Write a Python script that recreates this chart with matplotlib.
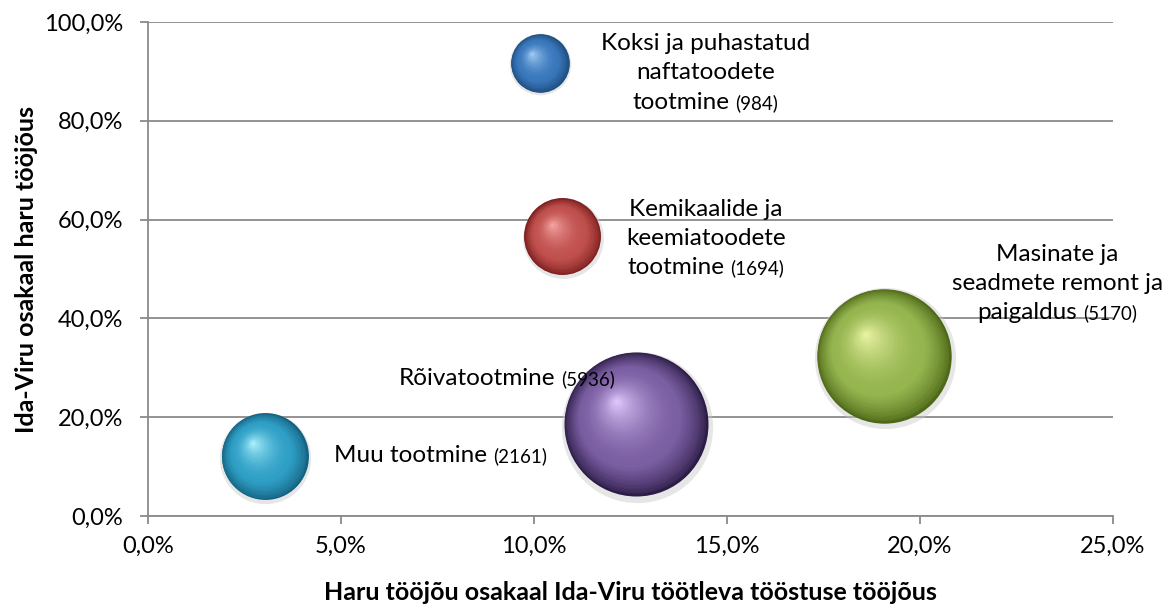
import matplotlib
matplotlib.use("Agg")
import matplotlib.pyplot as plt
import numpy as np
from matplotlib import transforms
from matplotlib.colors import to_rgb
from matplotlib.offsetbox import TextArea, HPacker, VPacker, AnnotationBbox
from matplotlib.ticker import FuncFormatter, MultipleLocator

# --- andmed ---
harud = ["Koksi ja puhastatud naftatoodete tootmine",
         "Kemikaalide ja keemiatoodete tootmine",
         "Muu tootmine",
         "Rõivatootmine",
         "Masinate ja seadmete remont ja paigaldus"]
haru_osakaal = [10.15, 10.74, 3.02, 12.64, 19.06]      # x, %
idaviru_osakaal = [91.7, 56.6, 12.1, 18.7, 32.5]       # y, %
tootajaid = [984, 1694, 2161, 5936, 5170]              # mulli suurus

silt_read = [["Koksi ja puhastatud", "naftatoodete", "tootmine"],
             ["Kemikaalide ja", "keemiatoodete", "tootmine"],
             ["Muu tootmine"],
             ["Rõivatootmine"],
             ["Masinate ja", "seadmete remont ja", "paigaldus"]]
silt_koht = [(14.45, 89.7), (14.45, 56.2), (7.58, 12.3), (9.3, 27.9), (23.56, 47.1)]

# värvid: tume serv, põhitoon, helk
varvid = [("#1d4a7a", "#3a78bd", "#a6d0f5"),
          ("#7a1e1e", "#c0504d", "#f7a8a8"),
          ("#14617f", "#2f9fc6", "#b0f4ff"),
          ("#2c1d47", "#7b5fa3", "#e4ccff"),
          ("#4d6818", "#95b54f", "#eef7a8")]

FONT = "Lato"
plt.rcParams["font.family"] = [FONT, "DejaVu Sans"]

fig = plt.figure(figsize=(11.75, 6.05), dpi=100)
ax = fig.add_axes([0.126, 0.147, 0.821, 0.8166])

MASTAAP = 1.811  # punktid^2 töötaja kohta


def sega(a, b, t):
    a, b = np.array(to_rgb(a)), np.array(to_rgb(b))
    return tuple(a + (b - a) * t)


def kera(x, y, n, tume, pohi, hele, kihte=45):
    s = n * MASTAAP
    d = np.sqrt(s)
    r = d / 2
    hx, hy = -0.28 * r, 0.32 * r
    # pehme vari
    tr = transforms.offset_copy(ax.transData, fig=fig, x=0.02 * r, y=-0.04 * r, units="points")
    ax.scatter([x], [y], s=(d * 1.05) ** 2, color="#c8c8c8", alpha=0.45, lw=0, zorder=2, transform=tr)
    for k in range(kihte):
        t = k / kihte
        dk = d * (1 - t)
        if t < 0.3:
            c = sega(tume, pohi, (t / 0.3) ** 0.7)
        else:
            c = sega(pohi, hele, ((t - 0.3) / 0.7) ** 1.8)
        tr = transforms.offset_copy(ax.transData, fig=fig, x=hx * t, y=hy * t, units="points")
        ax.scatter([x], [y], s=dk ** 2, color=c, lw=0, zorder=3, transform=tr)


for i in range(len(harud)):
    kera(haru_osakaal[i], idaviru_osakaal[i], tootajaid[i], *varvid[i])

# sildid
for i in range(len(harud)):
    read = silt_read[i]
    kastid = [TextArea(rida, textprops=dict(fontsize=17.5, color="black")) for rida in read[:-1]]
    viimane = HPacker(children=[TextArea(read[-1], textprops=dict(fontsize=17.5, color="black")),
                                TextArea("(%d)" % tootajaid[i], textprops=dict(fontsize=13.5, color="black"))],
                      align="baseline", pad=0, sep=4)
    kastid.append(viimane)
    vp = VPacker(children=kastid, align="center", pad=0, sep=6)
    ab = AnnotationBbox(vp, silt_koht[i], xycoords="data", frameon=False, box_alignment=(0.5, 0.5), zorder=10)
    ax.add_artist(ab)

ax.set_xlim(0, 25)
ax.set_ylim(0, 100)
ax.xaxis.set_major_locator(MultipleLocator(5))
ax.yaxis.set_major_locator(MultipleLocator(20))
pf = FuncFormatter(lambda v, p: ("%.1f%%" % v).replace(".", ","))
ax.xaxis.set_major_formatter(pf)
ax.yaxis.set_major_formatter(pf)

ax.set_axisbelow(True)
ax.grid(axis="y", color="#8a8a8a", lw=1.3)
for s in ["top", "right"]:
    ax.spines[s].set_visible(False)
for s in ["left", "bottom"]:
    ax.spines[s].set_color("#8a8a8a")
    ax.spines[s].set_linewidth(1.3)
ax.tick_params(axis="both", colors="#8a8a8a", labelcolor="black", labelsize=17, length=6, width=1.3)
ax.tick_params(axis="x", pad=8)
ax.tick_params(axis="y", pad=12)

ax.set_xlabel("Haru tööjõu osakaal Ida-Viru töötleva tööstuse tööjõus", fontsize=18, fontweight="bold", va="center")
ax.set_ylabel("Ida-Viru osakaal haru tööjõus", fontsize=18, fontweight="bold", va="center")
ax.xaxis.set_label_coords(0.5, -0.154)
ax.yaxis.set_label_coords(-0.126, 0.5)

fig.savefig("out.png", dpi=100)
